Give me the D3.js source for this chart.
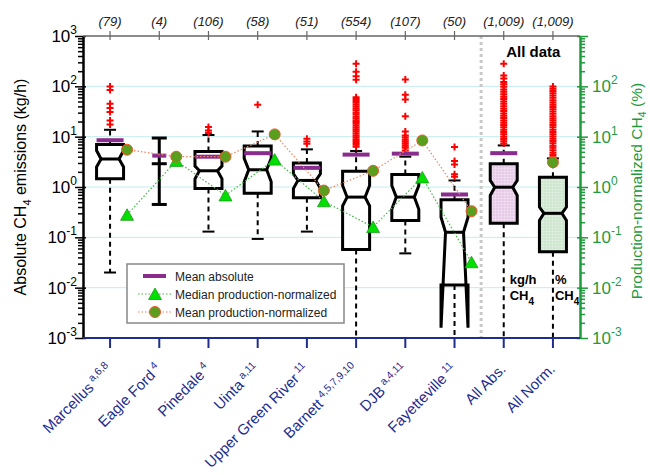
<html>
<head>
<script src="https://d3js.org/d3.v7.min.js" charset="utf-8"></script>
<style>
    body { margin: 0; background: white; }
    text { font-family: "Liberation Sans", Arial, sans-serif; }
</style>
</head>
<body>
<div id="vis_container"></div>
<script>
    // Basins along the x axis, with their reference superscripts and sample counts
    let categories = ["Marcellus", "Eagle Ford", "Pinedale", "Uinta", "Upper Green River",
        "Barnett", "DJB", "Fayetteville", "All Abs.", "All Norm."];
    let refs = ["a,6,8", "4", "4", "a,11", "11", "4,5,7,9,10", "a,4,11", "11", "", ""];
    let counts = ["(79)", "(4)", "(106)", "(58)", "(51)", "(554)", "(107)", "(50)", "(1,009)", "(1,009)"];

    // Box statistics, kg/h (All Norm. in %). null = no box for that basin.
    let whiskerLow  = [0.020, 0.45, 0.13, 0.093, 0.13, 0.0008, 0.048, 0.0008, 0.0008, 0.0008];
    let q1          = [1.46, null, 0.93, 0.75, 0.61, 0.057, 0.216, 0.0113, 0.19, 0.052];
    let notchLow    = [2.5, null, 1.45, 1.27, 0.93, 0.42, 0.36, 0.0016, 0.68, 0.216];
    let medians     = [3.6, 2.9, 2.1, 2.2, 1.35, 0.63, 0.63, 0.126, 0.99, 0.30];
    let notchHigh   = [5.3, null, 2.6, 3.7, 1.83, 1.07, 1.07, 0.25, 1.35, 0.40];
    let q3          = [7.0, null, 5.1, 6.5, 3.0, 2.06, 1.77, 0.56, 2.9, 1.57];
    let whiskerHigh = [13.7, 9.4, 10.8, 12.7, 5.6, 5.2, 4.0, 1.35, 6.7, 3.7];
    let meanAbs     = [8.5, 4.2, 4.0, 4.7, 2.4, 4.4, 4.6, 0.71, 4.7, null];

    // production-normalized values (%), one per basin
    let medianNorm  = [0.28, 3.3, 0.68, 3.5, 0.52, 0.16, 1.55, 0.032];
    let meanNorm    = [5.5, 4.0, 4.0, 11.1, 0.85, 2.1, 8.4, 0.33];
    let meanNormAll = 3.1;

    let outliers = [
        [99, 85, 45, 37, 31, 21, 17.5],
        [],
        [15.5, 13.2, 11.8],
        [43],
        [9.1, 8.0, 7.2],
        [281, 195, 158, 135, 61, 56, 51, 47, 43, 39.5, 36, 33, 30, 27.5, 25, 23, 21, 19.5, 18,
            16.5, 15, 13.8, 12.6, 11.5, 10.6, 9.7, 8.9, 8.2, 7.5, 6.9, 6.3],
        [137, 68, 55, 25.5, 12.6, 10.6, 9.6, 8.7, 7.9, 7.2, 6.6, 6.0, 5.3],
        [6.2, 3.3, 2.8, 1.8, 1.6],
        [281, 164, 143, 122, 110, 98, 87, 78, 70, 62, 56, 50, 45, 40, 36, 32.5, 29, 26, 23.5,
            21, 19, 17, 15.3, 13.8, 12.4, 11.2, 10, 9, 8.1, 7.3],
        [99.5, 90, 81, 73, 66, 59, 53, 48, 43, 39, 35, 31.5, 28.5, 25.5, 23, 21, 19, 17, 15.3,
            13.8, 12.4, 11.2, 10.1, 9.1, 8.2, 7.4, 6.6, 6, 5.4, 4.8, 4.3, 3.9]
    ];

    let decades = [1e-3, 1e-2, 1e-1, 1, 10, 100, 1000];
    let exponents = ["-3", "-2", "-1", "0", "1", "2", "3"];

    // ---- layout ----
    let width = 650, height = 475;
    let mLeft = 83, mRight = 580, mTop = 36, mBottom = 338;
    let boxW = 27, indent = 4.5, capW = 12;
    let navy = "#1f2d8c", green = "#1f9a3c", purple = "#8a2c8e";
    let boxFill = {"All Abs.": "url(#hatchPink)", "All Norm.": "url(#hatchGreen)"};

    let svg = d3.select("#vis_container").append("svg")
        .attr("width", width).attr("height", height);

    let defs = svg.append("defs");
    defs.append("clipPath").attr("id", "plotclip").append("rect")
        .attr("x", mLeft).attr("y", mTop).attr("width", mRight - mLeft).attr("height", mBottom - mTop);
    function hatch(id, bg, line) {
        let p = defs.append("pattern").attr("id", id).attr("width", 3).attr("height", 3)
            .attr("patternUnits", "userSpaceOnUse");
        p.append("rect").attr("width", 3).attr("height", 3).attr("fill", bg);
        p.append("path").attr("d", "M0,0.5H3M0.5,0V3").attr("stroke", line).attr("stroke-width", 0.6);
    }
    hatch("hatchPink", "#e6cbe6", "#f1e1f1");
    hatch("hatchGreen", "#cde6cd", "#e0f0e0");

    let x = d3.scalePoint().domain(categories).range([mLeft, mRight]).padding(0.55);
    let y = d3.scaleLog().domain([1e-3, 1e3]).range([mBottom, mTop]);

    // gridlines
    svg.append("g").selectAll("line")
        .data(decades.slice(1, 6))
        .enter().append("line")
        .attr("x1", mLeft).attr("x2", mRight)
        .attr("y1", function(d) { return y(d); }).attr("y2", function(d) { return y(d); })
        .attr("stroke", "#c4ecee").attr("stroke-width", 1);

    // divider between basins and "All data"
    let divX = (x("Fayetteville") + x("All Abs.")) / 2 + 2;
    svg.append("line")
        .attr("x1", divX).attr("x2", divX).attr("y1", mTop).attr("y2", mBottom)
        .attr("stroke", "#c8c8c8").attr("stroke-width", 3).attr("stroke-dasharray", "3,3");

    let plot = svg.append("g").attr("clip-path", "url(#plotclip)");

    categories.forEach(function(c, i) {
        let cx = x(c);
        let g = plot.append("g");
        if (q1[i] === null) {
            // too few points: plain line with caps
            g.append("line").attr("x1", cx).attr("x2", cx)
                .attr("y1", y(whiskerLow[i])).attr("y2", y(whiskerHigh[i]))
                .attr("stroke", "black").attr("stroke-width", 3);
            [whiskerLow[i], medians[i], whiskerHigh[i]].forEach(function(v) {
                g.append("line").attr("x1", cx - 7.5).attr("x2", cx + 7.5)
                    .attr("y1", y(v)).attr("y2", y(v))
                    .attr("stroke", "black").attr("stroke-width", 3);
            });
        } else {
            // whiskers
            g.append("line").attr("x1", cx).attr("x2", cx)
                .attr("y1", y(q3[i])).attr("y2", y(whiskerHigh[i]))
                .attr("stroke", "black").attr("stroke-width", 2).attr("stroke-dasharray", "5,4");
            g.append("line").attr("x1", cx).attr("x2", cx)
                .attr("y1", y(q1[i])).attr("y2", y(whiskerLow[i]))
                .attr("stroke", "black").attr("stroke-width", 2).attr("stroke-dasharray", "5,4");
            [whiskerLow[i], whiskerHigh[i]].forEach(function(v) {
                g.append("line").attr("x1", cx - capW / 2).attr("x2", cx + capW / 2)
                    .attr("y1", y(v)).attr("y2", y(v))
                    .attr("stroke", "black").attr("stroke-width", 2);
            });
            // notched box
            let L = cx - boxW / 2, R = cx + boxW / 2;
            let pts = [[L, q3[i]], [L, notchHigh[i]], [L + indent, medians[i]], [L, notchLow[i]], [L, q1[i]],
                [R, q1[i]], [R, notchLow[i]], [R - indent, medians[i]], [R, notchHigh[i]], [R, q3[i]]];
            g.append("path")
                .attr("d", "M" + pts.map(function(p) { return p[0] + "," + y(p[1]); }).join("L") + "Z")
                .attr("fill", boxFill[c] || "white")
                .attr("stroke", "black").attr("stroke-width", 3).attr("stroke-linejoin", "miter");
            g.append("line").attr("x1", L + indent).attr("x2", R - indent)
                .attr("y1", y(medians[i])).attr("y2", y(medians[i]))
                .attr("stroke", "black").attr("stroke-width", 3);
        }
        // outliers
        g.selectAll(".out").data(outliers[i]).enter().append("path")
            .attr("class", "out")
            .attr("d", "M-3.5,0H3.5M0,-3.5V3.5")
            .attr("transform", function(d) { return "translate(" + cx + "," + y(d) + ")"; })
            .attr("stroke", "#ff0000").attr("stroke-width", 2);
        // mean absolute
        if (meanAbs[i] !== null) {
            let mw = q1[i] === null ? 14 : boxW;
            g.append("line").attr("x1", cx - mw / 2).attr("x2", cx + mw / 2)
                .attr("y1", y(meanAbs[i])).attr("y2", y(meanAbs[i]))
                .attr("stroke", purple).attr("stroke-width", 4);
        }
    });

    // production-normalized series, offset right of each box
    let dx = 17;
    let normX = function(d, i) { return x(categories[i]) + dx; };
    let lineGen = function(vals) {
        return d3.line().x(function(d, i) { return normX(d, i); }).y(function(d) { return y(d); })(vals);
    };
    svg.append("path").attr("d", lineGen(meanNorm))
        .attr("fill", "none").attr("stroke", "#f4845c").attr("stroke-width", 1.2).attr("stroke-dasharray", "1.5,2");
    svg.append("path").attr("d", lineGen(medianNorm))
        .attr("fill", "none").attr("stroke", "#43b843").attr("stroke-width", 1.2).attr("stroke-dasharray", "1.5,2");

    let triPath = "M0,-7L6.5,4.5L-6.5,4.5Z";
    svg.selectAll(".tri").data(medianNorm).enter().append("path")
        .attr("class", "tri").attr("d", triPath)
        .attr("transform", function(d, i) { return "translate(" + normX(d, i) + "," + (y(d) + 1) + ")"; })
        .attr("fill", "#00e000").attr("stroke", "#1e9a1e").attr("stroke-width", 0.8);
    svg.selectAll(".dot").data(meanNorm).enter().append("circle")
        .attr("class", "dot").attr("r", 5.5)
        .attr("cx", function(d, i) { return normX(d, i); })
        .attr("cy", function(d) { return y(d); })
        .attr("fill", "#5a9e1e").attr("stroke", "#f0582a").attr("stroke-width", 1);
    svg.append("circle").attr("r", 5.5)
        .attr("cx", x("All Norm.")).attr("cy", y(meanNormAll))
        .attr("fill", "#5a9e1e").attr("stroke", "#f0582a").attr("stroke-width", 1);

    // "All data" annotations
    svg.append("text").attr("x", (x("All Abs.") + x("All Norm.")) / 2 + 5).attr("y", 57)
        .attr("text-anchor", "middle").attr("font-weight", "bold").attr("font-size", 15).text("All data");
    function unitLabel(xx, first) {
        let t = svg.append("text").attr("x", xx).attr("y", 284)
            .attr("font-weight", "bold").attr("font-size", 13);
        t.append("tspan").attr("x", xx).text(first);
        t.append("tspan").attr("x", xx).attr("dy", 16).text("CH");
        t.append("tspan").attr("dy", 5).attr("font-size", 10).text("4");
    }
    unitLabel(x("All Abs.") + 6, "kg/h");
    unitLabel(x("All Norm.") + 2, "%");

    // ---- axes ----
    let allTicks = [];
    decades.forEach(function(d, k) {
        allTicks.push(d);
        if (k < decades.length - 1) {
            for (let m = 2; m < 10; m++) allTicks.push(d * m);
        }
    });
    let isMajor = function(v) { return Math.abs(Math.log10(v) - Math.round(Math.log10(v))) < 1e-6; };

    let axL = svg.append("g").attr("transform", "translate(" + mLeft + ",0)")
        .call(d3.axisLeft(y).tickValues(allTicks).tickFormat("").tickSizeOuter(0));
    axL.select(".domain").attr("stroke-width", 2.5);
    axL.selectAll(".tick line")
        .attr("x1", function(d) { return isMajor(d) ? 3 : 0; })
        .attr("x2", function(d) { return isMajor(d) ? -8 : -5; })
        .attr("stroke-width", 1.5);

    let axR = svg.append("g").attr("transform", "translate(" + mRight + ",0)")
        .call(d3.axisRight(y).tickValues(allTicks).tickFormat("").tickSizeOuter(0));
    axR.select(".domain").attr("stroke", green).attr("stroke-width", 2.5);
    axR.selectAll(".tick line").attr("stroke", green)
        .attr("x1", function(d) { return isMajor(d) ? -3 : 0; })
        .attr("x2", function(d) { return isMajor(d) ? 8 : 5; })
        .attr("stroke-width", 1.5);

    decades.forEach(function(d, k) {
        let t = svg.append("text").attr("x", mLeft - 6).attr("y", y(d) + 6)
            .attr("text-anchor", "end").attr("font-size", 17).attr("fill", "black");
        t.append("tspan").text("10");
        t.append("tspan").attr("dy", -8).attr("font-size", 12).text(exponents[k]);
        if (k < decades.length - 1) {
            let r = svg.append("text").attr("x", mRight + 12).attr("y", y(d) + 6)
                .attr("font-size", 17).attr("fill", green);
            r.append("tspan").text("10");
            r.append("tspan").attr("dy", -8).attr("font-size", 12).text(exponents[k]);
        }
    });

    // top axis with counts
    svg.append("line").attr("x1", mLeft).attr("x2", mRight).attr("y1", mTop).attr("y2", mTop)
        .attr("stroke", "#666").attr("stroke-width", 1.5);
    categories.forEach(function(c, i) {
        svg.append("line").attr("x1", x(c)).attr("x2", x(c)).attr("y1", mTop - 5).attr("y2", mTop + 4)
            .attr("stroke", "#666").attr("stroke-width", 1.2);
        svg.append("text").attr("x", x(c)).attr("y", 26).attr("text-anchor", "middle")
            .attr("font-size", 13).attr("font-style", "italic").attr("fill", "#222").text(counts[i]);
    });

    // bottom axis with basin names
    svg.append("line").attr("x1", mLeft).attr("x2", mRight).attr("y1", mBottom).attr("y2", mBottom)
        .attr("stroke", navy).attr("stroke-width", 2);
    categories.forEach(function(c, i) {
        svg.append("line").attr("x1", x(c)).attr("x2", x(c)).attr("y1", mBottom).attr("y2", mBottom + 10)
            .attr("stroke", navy).attr("stroke-width", 2);
        let t = svg.append("text")
            .attr("transform", "translate(" + (x(c) + 3) + ",370) rotate(-45)")
            .attr("text-anchor", "end").attr("font-size", 15).attr("fill", navy);
        t.append("tspan").text(c);
        if (refs[i]) t.append("tspan").attr("dy", -6).attr("font-size", 10.5).text(" " + refs[i]);
    });

    // axis titles
    let tl = svg.append("text").attr("transform", "translate(26," + ((mTop + mBottom) / 2) + ") rotate(-90)")
        .attr("text-anchor", "middle").attr("font-size", 16);
    tl.append("tspan").text("Absolute CH");
    tl.append("tspan").attr("dy", 5).attr("font-size", 11).text("4");
    tl.append("tspan").attr("dy", -5).text(" emissions (kg/h)");

    let tr = svg.append("text").attr("transform", "translate(642," + ((mTop + mBottom) / 2 + 4) + ") rotate(-90)")
        .attr("text-anchor", "middle").attr("font-size", 15.5).attr("fill", green);
    tr.append("tspan").text("Production-normalized CH");
    tr.append("tspan").attr("dy", 4).attr("font-size", 11).text("4");
    tr.append("tspan").attr("dy", -4).text(" (%)");

    // legend
    let lg = svg.append("g");
    lg.append("rect").attr("x", 127).attr("y", 264).attr("width", 217).attr("height", 59)
        .attr("fill", "white").attr("stroke", "#888").attr("stroke-width", 1.5);
    let legendNames = ["Mean absolute", "Median production-normalized", "Mean production-normalized"];
    legendNames.forEach(function(name, k) {
        let ly = 276 + k * 18;
        if (k === 0) {
            lg.append("line").attr("x1", 143).attr("x2", 166).attr("y1", ly).attr("y2", ly)
                .attr("stroke", purple).attr("stroke-width", 4);
        } else {
            lg.append("line").attr("x1", 138).attr("x2", 172).attr("y1", ly).attr("y2", ly)
                .attr("stroke", k === 1 ? "#43b843" : "#f4845c").attr("stroke-width", 1.2)
                .attr("stroke-dasharray", "1.5,2");
            if (k === 1) {
                lg.append("path").attr("d", triPath).attr("transform", "translate(155," + (ly + 1) + ")")
                    .attr("fill", "#00e000").attr("stroke", "#1e9a1e").attr("stroke-width", 0.8);
            } else {
                lg.append("circle").attr("cx", 155).attr("cy", ly).attr("r", 5.5)
                    .attr("fill", "#5a9e1e").attr("stroke", "#f0582a").attr("stroke-width", 1);
            }
        }
        lg.append("text").attr("x", 175).attr("y", ly + 4.5).attr("font-size", 12).attr("fill", "#222").text(name);
    });
</script>
</body>
</html>
